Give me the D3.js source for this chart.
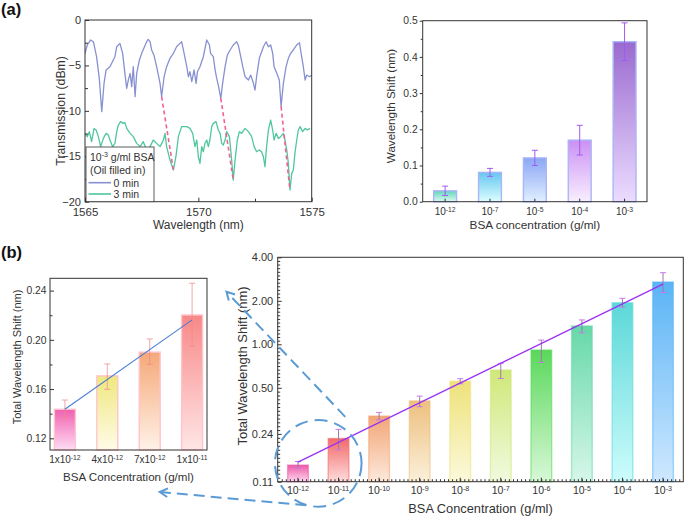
<!DOCTYPE html>
<html>
<head>
<meta charset="utf-8">
<script src="https://cdn.jsdelivr.net/npm/d3@7"></script>
<style>
  body { margin: 0; background: #fff; }
  svg { display: block; }
</style>
</head>
<body>
<svg id="chart" width="685" height="518"></svg>
<script>
// -- Data: (a) left, transmission spectra --
const wl0 = [1565.00,1565.10,1565.25,1565.37,1565.51,1565.63,1565.74,1565.84,1565.93,1566.10,1566.32,1566.40,1566.54,1566.66,1566.76,1566.84,1566.91,1566.99,1567.06,1567.13,1567.21,1567.28,1567.40,1567.50,1567.72,1567.79,1567.87,1567.94,1568.04,1568.16,1568.31,1568.38,1568.49,1568.60,1568.75,1568.90,1569.04,1569.19,1569.26,1569.34,1569.49,1569.56,1569.63,1569.71,1569.81,1569.90,1569.96,1570.07,1570.22,1570.37,1570.49,1570.54,1570.66,1570.74,1570.81,1570.88,1570.99,1571.07,1571.18,1571.28,1571.40,1571.54,1571.69,1571.76,1571.84,1571.96,1572.06,1572.21,1572.31,1572.43,1572.50,1572.57,1572.69,1572.87,1572.99,1573.09,1573.19,1573.28,1573.34,1573.46,1573.57,1573.65,1573.75,1573.87,1573.97,1574.07,1574.19,1574.34,1574.46,1574.51,1574.63,1574.71,1574.78,1574.90,1575.00];
const tr0 = [-3.67,-2.75,-2.20,-2.39,-4.04,-6.42,-10.09,-6.97,-5.50,-5.14,-4.04,-2.94,-2.57,-3.67,-5.87,-7.52,-6.61,-5.87,-7.34,-5.14,-8.44,-5.87,-4.40,-3.67,-2.39,-2.13,-2.39,-3.30,-3.85,-5.14,-6.97,-8.44,-6.24,-5.14,-4.22,-3.67,-2.94,-2.57,-2.39,-3.30,-5.14,-6.24,-5.69,-6.79,-5.50,-6.97,-5.69,-5.14,-4.04,-2.20,-2.75,-3.67,-4.04,-5.50,-6.42,-7.16,-8.62,-6.97,-5.14,-3.85,-3.30,-2.75,-2.39,-2.75,-3.67,-5.14,-6.24,-6.61,-6.06,-6.97,-7.71,-6.24,-4.22,-2.94,-2.39,-2.94,-2.75,-3.67,-5.14,-5.87,-6.61,-9.54,-6.97,-5.14,-4.22,-3.67,-3.30,-2.75,-2.50,-3.30,-5.14,-6.61,-6.06,-6.24,-6.06];
const wl3 = [1565.00,1565.10,1565.19,1565.29,1565.40,1565.49,1565.59,1565.69,1565.81,1565.93,1566.03,1566.10,1566.22,1566.32,1566.40,1566.47,1566.57,1566.69,1566.76,1566.84,1566.99,1567.13,1567.28,1567.43,1567.57,1567.72,1567.87,1568.01,1568.16,1568.31,1568.46,1568.53,1568.60,1568.75,1568.90,1569.01,1569.12,1569.26,1569.49,1569.63,1569.75,1569.85,1569.93,1570.00,1570.07,1570.15,1570.22,1570.29,1570.37,1570.44,1570.51,1570.59,1570.66,1570.78,1570.88,1570.96,1571.03,1571.10,1571.18,1571.25,1571.37,1571.47,1571.54,1571.62,1571.72,1571.81,1571.91,1572.06,1572.21,1572.35,1572.46,1572.57,1572.69,1572.79,1572.87,1572.94,1573.01,1573.09,1573.19,1573.28,1573.34,1573.43,1573.53,1573.63,1573.75,1573.82,1573.90,1573.97,1574.04,1574.12,1574.19,1574.26,1574.34,1574.41,1574.49,1574.60,1574.71,1574.81,1574.93];
const tr3 = [-12.48,-12.84,-12.29,-13.39,-11.93,-12.11,-12.84,-13.94,-13.03,-12.48,-12.66,-13.21,-13.94,-13.58,-12.29,-11.56,-11.19,-11.38,-11.30,-11.93,-12.48,-12.84,-13.58,-13.94,-13.39,-14.31,-13.94,-13.21,-13.58,-13.94,-13.21,-12.48,-13.94,-15.41,-16.51,-15.05,-12.84,-11.74,-11.74,-11.93,-12.48,-13.94,-13.21,-15.05,-15.78,-13.94,-14.50,-13.58,-13.21,-13.94,-13.21,-11.74,-11.38,-11.19,-12.11,-12.48,-13.58,-13.76,-13.21,-12.29,-12.84,-15.41,-17.61,-15.41,-13.21,-12.29,-12.48,-11.93,-12.29,-12.84,-13.94,-14.50,-14.31,-14.50,-15.05,-16.15,-13.94,-12.11,-11.01,-12.11,-13.21,-12.48,-13.03,-12.84,-12.48,-13.21,-14.31,-15.78,-18.72,-16.88,-16.51,-14.68,-13.21,-12.11,-11.74,-12.29,-11.93,-12.11,-11.93];
// dips joined by the dashed shift lines
const dipWl0 = [1568.38, 1570.99, 1573.65];
const dipTr0 = [-8.44, -8.62, -9.54];
const dipWl3 = [1568.90, 1571.54, 1574.04];
const dipTr3 = [-16.51, -17.61, -18.72];

// -- Data: (a) right --
const aExp = ["-12", "-7", "-5", "-4", "-3"];
const aShift = [0.030, 0.081, 0.121, 0.170, 0.442];
const aErr = [0.013, 0.011, 0.021, 0.041, 0.052];

// -- Data: (b) inset --
const bInMant = ["1", "4", "7", "1"];
const bInExp = ["-12", "-12", "-12", "-11"];
const bInShift = [0.1436, 0.1707, 0.190, 0.2202];
const bInLo = [0.1363, 0.1598, 0.1802, 0.195];
const bInHi = [0.1511, 0.1804, 0.2007, 0.246];
const bInFit = [0.1436, 0.2162];
const bInTicks = [0.12, 0.16, 0.20, 0.24];

// -- Data: (b) main, log axis --
const bExp = ["-12", "-11", "-10", "-9", "-8", "-7", "-6", "-5", "-4", "-3"];
const bShift = [0.146, 0.223, 0.319, 0.406, 0.555, 0.664, 0.913, 1.34, 1.94, 2.70];
const bLo = [0.139, 0.186, 0.300, 0.370, 0.533, 0.580, 0.750, 1.20, 1.805, 2.28];
const bHi = [0.1545, 0.258, 0.338, 0.438, 0.578, 0.7385, 1.07, 1.475, 2.08, 3.13];
const bFit = [0.153, 2.61];
const bTicks = [0.112, 0.24, 0.5, 1, 2, 4];

// -- Styles --
const FONT = "'Liberation Sans', Arial, sans-serif";
const INK = "#333";
const aColors = [["#62d6bc", "#dcfaf2"], ["#66c6f0", "#dcffff"], ["#8ba6f4", "#e0efff"], ["#cc90f4", "#f8efff"], ["#9a6ad0", "#ecdcff"]];
const bInColors = [["#f060b0", "#ffdcf4"], ["#eee87e", "#fffbe8"], ["#f5a878", "#fff2e8"], ["#f88888", "#ffe6e6"]];
const bColors = [["#ec5aa8", "#ffd8ef"], ["#f26a6a", "#ffdcdc"], ["#f2a677", "#fde9dc"], ["#edc07f", "#fbf0da"], ["#eee27a", "#fcf9dc"],
                 ["#cfe878", "#f1fadf"], ["#5ad85a", "#d8f8d8"], ["#66d8a8", "#d6f7ea"], ["#5cd8d8", "#cdfcfc"], ["#5ab4f5", "#cfe8ff"]];
const ARROW = "#5b9bd5";

const svg = d3.select("#chart").attr("font-family", FONT);
const defs = svg.append("defs");

function gradient(id, top, bottom) {
    const g = defs.append("linearGradient").attr("id", id)
        .attr("x1", 0).attr("y1", 0).attr("x2", 0).attr("y2", 1);
    g.append("stop").attr("offset", "0%").attr("stop-color", top);
    g.append("stop").attr("offset", "100%").attr("stop-color", bottom);
}

function frame(box) {
    svg.append("rect")
        .attr("x", box.l).attr("y", box.t)
        .attr("width", box.r - box.l).attr("height", box.b - box.t)
        .attr("fill", "none").attr("stroke", INK).attr("stroke-width", 1);
}

function styleAxis(g, size) {
    g.attr("font-family", FONT).attr("font-size", size);
    g.select(".domain").remove();
    g.selectAll("line").attr("stroke", INK);
    g.selectAll("text").attr("fill", INK);
}

function supTicks(g, base, exp, size) {
    g.selectAll(".tick text").each(function (d, i) {
        const t = d3.select(this).text(null);
        t.append("tspan").text(base(d, i));
        t.append("tspan").attr("dy", "-0.45em").attr("font-size", size * 0.68).text(exp(d, i));
    });
}

function title(text, x, y, size, rotate) {
    svg.append("text")
        .attr("transform", `translate(${x},${y})` + (rotate ? " rotate(-90)" : ""))
        .attr("text-anchor", "middle")
        .attr("font-size", size).attr("fill", INK)
        .text(text);
}

// ===================== (a) left: spectra =====================
const A1 = { l: 85, r: 311.7, t: 20, b: 201.7 };
const xA1 = d3.scaleLinear().domain([1565, 1575]).range([A1.l, A1.r]);
const yA1 = d3.scaleLinear().domain([-20, 0]).range([A1.b, A1.t]);

defs.append("clipPath").attr("id", "clipA1").append("rect")
    .attr("x", A1.l).attr("y", A1.t).attr("width", A1.r - A1.l).attr("height", A1.b - A1.t);

const line = d3.line().x(d => xA1(d[0])).y(d => yA1(d[1]));
const curves = svg.append("g").attr("clip-path", "url(#clipA1)");
curves.append("path").datum(d3.zip(wl0, tr0)).attr("d", line)
    .attr("fill", "none").attr("stroke", "#8890d2").attr("stroke-width", 1.3).attr("stroke-linejoin", "round");
curves.append("path").datum(d3.zip(wl3, tr3)).attr("d", line)
    .attr("fill", "none").attr("stroke", "#4fc79c").attr("stroke-width", 1.3).attr("stroke-linejoin", "round");
curves.selectAll(".shift").data(d3.range(dipWl0.length)).join("line")
    .attr("x1", i => xA1(dipWl0[i])).attr("y1", i => yA1(dipTr0[i]))
    .attr("x2", i => xA1(dipWl3[i])).attr("y2", i => yA1(dipTr3[i]))
    .attr("stroke", "#f2609c").attr("stroke-width", 1.6).attr("stroke-dasharray", "4,3");

svg.append("g").attr("transform", `translate(0,${A1.b})`)
    .call(d3.axisBottom(xA1).tickValues([1567.5, 1572.5]).tickFormat("").tickSizeInner(-3).tickSizeOuter(0))
    .call(g => styleAxis(g, 11.5));
svg.append("g").attr("transform", `translate(0,${A1.b})`)
    .call(d3.axisBottom(xA1).tickValues([1565, 1570, 1575]).tickFormat(d3.format("d")).tickSizeInner(-4).tickSizeOuter(0).tickPadding(6))
    .call(g => styleAxis(g, 11.5));
svg.append("g").attr("transform", `translate(${A1.l},0)`)
    .call(d3.axisLeft(yA1).tickValues([-2.5, -7.5, -12.5, -17.5]).tickFormat("").tickSizeInner(-3).tickSizeOuter(0))
    .call(g => styleAxis(g, 11));
svg.append("g").attr("transform", `translate(${A1.l},0)`)
    .call(d3.axisLeft(yA1).tickValues([0, -5, -10, -15, -20]).tickFormat(d3.format("d")).tickSizeInner(-4).tickSizeOuter(0).tickPadding(4))
    .call(g => styleAxis(g, 11));
frame(A1);

// legend
const leg = svg.append("g");
leg.append("rect").attr("x", 86).attr("y", 147).attr("width", 68).attr("height", 54.7)
    .attr("fill", "#fff").attr("stroke", INK).attr("stroke-width", 0.8);
const legT = leg.append("text").attr("x", 90).attr("y", 160.5).attr("font-size", 10.5).attr("fill", INK);
legT.append("tspan").text("10");
legT.append("tspan").attr("dy", -4).attr("font-size", 7).text("-3");
legT.append("tspan").attr("dy", 4).text(" g/ml BSA");
leg.append("text").attr("x", 90).attr("y", 173.5).attr("font-size", 10.5).attr("fill", INK).text("(Oil filled in)");
[["0 min", "#8890d2", 182.7], ["3 min", "#4fc79c", 194]].forEach(([lab, col, y]) => {
    leg.append("line").attr("x1", 88.5).attr("x2", 111).attr("y1", y).attr("y2", y)
        .attr("stroke", col).attr("stroke-width", 1.6);
    leg.append("text").attr("x", 113.5).attr("y", y + 3.8).attr("font-size", 10.5).attr("fill", INK).text(lab);
});

title("Wavelength (nm)", (A1.l + A1.r) / 2, 229, 12, false);
title("Transmission (dBm)", 64.5, (A1.t + A1.b) / 2, 12.3, true);

// ===================== (a) right: shift bars =====================
const A2 = { l: 422.7, r: 647, t: 20.7, b: 201.7 };
const xA2 = d3.scaleBand().domain(aExp).range([A2.l, A2.r]).paddingInner(0.49).paddingOuter(0.245);
const yA2 = d3.scaleLinear().domain([0, 0.5]).range([A2.b, A2.t]);
aColors.forEach((c, i) => gradient("ga" + i, c[0], c[1]));

svg.append("g").selectAll("rect").data(aExp).join("rect")
    .attr("x", d => xA2(d)).attr("width", xA2.bandwidth())
    .attr("y", (d, i) => yA2(aShift[i])).attr("height", (d, i) => A2.b - yA2(aShift[i]))
    .attr("fill", (d, i) => `url(#ga${i})`)
    .attr("stroke", "#aab6f6").attr("stroke-width", 1.4);

const errA = svg.append("g").attr("stroke", "#a35af0").attr("stroke-width", 1);
aExp.forEach((d, i) => {
    const cx = xA2(d) + xA2.bandwidth() / 2;
    const y1 = yA2(aShift[i] - aErr[i]), y2 = yA2(aShift[i] + aErr[i]);
    errA.append("line").attr("x1", cx).attr("x2", cx).attr("y1", y1).attr("y2", y2);
    errA.append("line").attr("x1", cx - 3).attr("x2", cx + 3).attr("y1", y1).attr("y2", y1);
    errA.append("line").attr("x1", cx - 3).attr("x2", cx + 3).attr("y1", y2).attr("y2", y2);
});

svg.append("g").attr("transform", `translate(0,${A2.b})`)
    .call(d3.axisBottom(xA2).tickSizeInner(-3).tickSizeOuter(0).tickPadding(6))
    .call(g => styleAxis(g, 10))
    .call(g => supTicks(g, () => "10", d => d, 10));
svg.append("g").attr("transform", `translate(${A2.l},0)`)
    .call(d3.axisLeft(yA2).tickValues([0.05, 0.15, 0.25, 0.35, 0.45]).tickFormat("").tickSizeInner(2).tickSizeOuter(0))
    .call(g => styleAxis(g, 10));
svg.append("g").attr("transform", `translate(${A2.l},0)`)
    .call(d3.axisLeft(yA2).ticks(5).tickFormat(d3.format(".1f")).tickSizeInner(3).tickSizeOuter(0).tickPadding(2))
    .call(g => styleAxis(g, 10.3));
frame(A2);

title("BSA concentration (g/ml)", (A2.l + A2.r) / 2, 229, 11.8, false);
title("Wavelength Shift (nm)", 394.5, 106, 11.6, true);

// ===================== (b) inset =====================
const B1 = { l: 50, r: 207, t: 278.3, b: 450 };
const xB1 = d3.scaleBand().domain(d3.range(bInShift.length)).range([B1.l, B1.r]).paddingInner(0.505).paddingOuter(0.104);
const yB1 = d3.scaleLinear().domain([0.1105, 0.25]).range([B1.b, B1.t]);
bInColors.forEach((c, i) => gradient("gbi" + i, c[0], c[1]));

svg.append("g").selectAll("rect").data(bInShift).join("rect")
    .attr("x", (d, i) => xB1(i)).attr("width", xB1.bandwidth())
    .attr("y", d => yB1(d)).attr("height", d => B1.b - yB1(d))
    .attr("fill", (d, i) => `url(#gbi${i})`)
    .attr("stroke", "#ffc4cc").attr("stroke-width", 1.4);

const errB1 = svg.append("g").attr("stroke", "#f08a8a").attr("stroke-opacity", 0.75).attr("stroke-width", 1);
bInShift.forEach((d, i) => {
    const cx = xB1(i) + xB1.bandwidth() / 2;
    const y1 = yB1(bInLo[i]), y2 = yB1(bInHi[i]);
    errB1.append("line").attr("x1", cx).attr("x2", cx).attr("y1", y1).attr("y2", y2);
    errB1.append("line").attr("x1", cx - 3).attr("x2", cx + 3).attr("y1", y1).attr("y2", y1);
    errB1.append("line").attr("x1", cx - 3).attr("x2", cx + 3).attr("y1", y2).attr("y2", y2);
});

const cB1 = i => xB1(i) + xB1.bandwidth() / 2;
svg.append("line")
    .attr("x1", cB1(0)).attr("y1", yB1(bInFit[0]))
    .attr("x2", cB1(bInShift.length - 1)).attr("y2", yB1(bInFit[1]))
    .attr("stroke", "#4a7fd4").attr("stroke-width", 1.1);

svg.append("g").attr("transform", `translate(0,${B1.b})`)
    .call(d3.axisBottom(xB1).tickSizeInner(0).tickSizeOuter(0).tickPadding(6))
    .call(g => styleAxis(g, 10))
    .call(g => supTicks(g, (d, i) => bInMant[i] + "x10", (d, i) => bInExp[i], 10));
svg.append("g").attr("transform", `translate(${B1.l},0)`)
    .call(d3.axisLeft(yB1).tickValues([0.14, 0.18, 0.22]).tickFormat("").tickSizeInner(-2.5).tickSizeOuter(0))
    .call(g => styleAxis(g, 10));
svg.append("g").attr("transform", `translate(${B1.l},0)`)
    .call(d3.axisLeft(yB1).tickValues(bInTicks).tickFormat(d3.format(".2f")).tickSizeInner(-4).tickSizeOuter(0).tickPadding(3.5))
    .call(g => styleAxis(g, 10.3));
frame(B1);

title("BSA Concentration (g/ml)", (B1.l + B1.r) / 2, 481, 11.6, false);
title("Total Wavelength Shift (nm)", 20.5, 357, 11, true);

// ===================== (b) main: log bars =====================
const B2 = { l: 277.7, r: 683.3, t: 257.3, b: 481.7 };
const xB2 = d3.scaleBand().domain(bExp).range([B2.l, B2.r]).paddingInner(0.49).paddingOuter(0.245);
const yB2 = d3.scaleLog().domain([bTicks[0], bTicks[bTicks.length - 1]]).range([B2.b, B2.t]);
bColors.forEach((c, i) => gradient("gb" + i, c[0], c[1]));

svg.append("g").selectAll("rect").data(bExp).join("rect")
    .attr("x", d => xB2(d)).attr("width", xB2.bandwidth())
    .attr("y", (d, i) => yB2(bShift[i])).attr("height", (d, i) => B2.b - yB2(bShift[i]))
    .attr("fill", (d, i) => `url(#gb${i})`)
    .attr("stroke", (d, i) => bColors[i][0]).attr("stroke-opacity", 0.55).attr("stroke-width", 1.4);

const errB2 = svg.append("g").attr("stroke-width", 1);
bExp.forEach((d, i) => {
    const cx = xB2(d) + xB2.bandwidth() / 2;
    const y1 = yB2(bLo[i]), y2 = yB2(bHi[i]);
    errB2.append("line").attr("x1", cx).attr("x2", cx).attr("y1", y1).attr("y2", y2).attr("stroke", "#9a7aa8");
    errB2.append("line").attr("x1", cx - 3).attr("x2", cx + 3).attr("y1", y1).attr("y2", y1).attr("stroke", "#c878e8");
    errB2.append("line").attr("x1", cx - 3).attr("x2", cx + 3).attr("y1", y2).attr("y2", y2).attr("stroke", "#c878e8");
});

const cB2 = d => xB2(d) + xB2.bandwidth() / 2;
svg.append("line")
    .attr("x1", cB2(bExp[0])).attr("y1", yB2(bFit[0]))
    .attr("x2", cB2(bExp[bExp.length - 1])).attr("y2", yB2(bFit[1]))
    .attr("stroke", "#9b30f5").attr("stroke-width", 1.3);

// minor ticks: x every tenth of a step, y in twelfths of each labelled interval
const xiB2 = d3.scaleLinear().domain([0, bExp.length]).range([B2.l, B2.r]);
svg.append("g").attr("transform", `translate(0,${B2.b})`)
    .call(d3.axisBottom(xiB2).tickValues(d3.range(1, bExp.length * 10).map(k => k / 10)).tickFormat("").tickSizeInner(-2.5).tickSizeOuter(0))
    .call(g => styleAxis(g, 10));
const yMinor = [];
for (let k = 0; k < bTicks.length - 1; k++) {
    const lo = Math.log(bTicks[k]), hi = Math.log(bTicks[k + 1]);
    for (let j = 1; j < 12; j++) yMinor.push(Math.exp(lo + (hi - lo) * j / 12));
}
svg.append("g").attr("transform", `translate(${B2.l},0)`)
    .call(d3.axisLeft(yB2).tickValues(yMinor).tickFormat("").tickSizeInner(-2.5).tickSizeOuter(0))
    .call(g => styleAxis(g, 10));

svg.append("g").attr("transform", `translate(0,${B2.b})`)
    .call(d3.axisBottom(xB2).tickSizeInner(-4).tickSizeOuter(0).tickPadding(5))
    .call(g => styleAxis(g, 10.5))
    .call(g => supTicks(g, () => "10", d => d, 10.5));
svg.append("g").attr("transform", `translate(${B2.l},0)`)
    .call(d3.axisLeft(yB2).tickValues(bTicks).tickFormat(d3.format(".2f")).tickSizeInner(-4).tickSizeOuter(0).tickPadding(4.5))
    .call(g => styleAxis(g, 11));
frame(B2);

title("BSA Concentration (g/ml)", (B2.l + B2.r) / 2, 513, 12.8, false);
title("Total Wavelength Shift (nm)", 247, 366, 13, true);

// -- Zoom annotation: dashed circle round the first two bars, arrows to inset --
const circX = (cB2(bExp[0]) + cB2(bExp[1])) / 2;
const circY = yB2(0.150);
svg.append("circle").attr("cx", circX).attr("cy", circY).attr("r", 43.3)
    .attr("fill", "none").attr("stroke", ARROW).attr("stroke-width", 2).attr("stroke-dasharray", "13,7");

function dashedArrow(x1, y1, x2, y2) {
    svg.append("line").attr("x1", x1).attr("y1", y1).attr("x2", x2).attr("y2", y2)
        .attr("stroke", ARROW).attr("stroke-width", 2).attr("stroke-dasharray", "11,6");
    const a = Math.atan2(y1 - y2, x1 - x2), h = 9, s = 0.5;
    svg.append("path")
        .attr("d", `M${x2 + h * Math.cos(a - s)},${y2 + h * Math.sin(a - s)}L${x2},${y2}L${x2 + h * Math.cos(a + s)},${y2 + h * Math.sin(a + s)}`)
        .attr("fill", "none").attr("stroke", ARROW).attr("stroke-width", 2);
}
dashedArrow(circX + 27, circY - 46.5, B1.r + 19.5, B1.t + 13.5);
dashedArrow(circX - 12, circY + 42, cB1(2) + 10, B1.b + 42);

// -- Panel letters --
svg.append("text").attr("x", 1).attr("y", 15).attr("font-size", 16.5).attr("font-weight", "bold").attr("fill", "#111").text("(a)");
svg.append("text").attr("x", 1).attr("y", 258).attr("font-size", 16.5).attr("font-weight", "bold").attr("fill", "#111").text("(b)");
</script>
</body>
</html>
